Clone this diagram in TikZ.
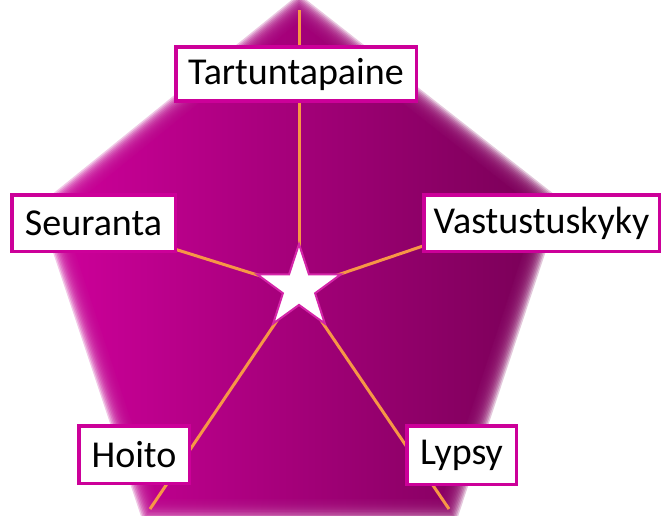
\documentclass[tikz,border=0pt]{standalone}
\usepackage{fontspec}
\setmainfont{Carlito}
\usetikzlibrary{shapes.geometric}
\definecolor{penta}{RGB}{204,0,153}
\definecolor{pentamid}{RGB}{182,0,138}
\definecolor{pentadark}{RGB}{122,0,88}
\definecolor{spokeorange}{RGB}{247,150,70}
\tikzset{
  labelbox/.style={draw=penta, line width=3.5pt, fill=white, inner sep=0pt,
    minimum height=54pt, font=\fontsize{38}{40}\selectfont},
  spoke/.style={draw=spokeorange, line width=3pt},
}

\begin{document}
\begin{tikzpicture}[x=1pt,y=-1pt]
        \clip (0,0) rectangle (661,515);
        \fill[white] (0,0) rectangle (661,515);
        \coordinate (centre) at (299,288);
        % soft pentagon
            \foreach \k in {0,...,14}{
                \pgfmathsetmacro{\s}{1.05-0.007*\k}
                \shade[left color=penta, middle color=pentamid, right color=pentadark,
                       opacity=0.22, scale around={\s:(centre)}]
                    (299,8) -- (550,205) -- (449,510) -- (150,510) -- (50,210) -- cycle;
            }
            \shade[left color=penta, middle color=pentamid, right color=pentadark,
                   scale around={0.95:(centre)}]
                (299,8) -- (550,205) -- (449,510) -- (150,510) -- (50,210) -- cycle;
        % corners
            \coordinate (vtop) at (299,10);
            \coordinate (vright) at (550,203);
            \coordinate (vlowright) at (449,509);
            \coordinate (vlowleft) at (150,509);
            \coordinate (vleft) at (50,210);
        % spokes
            \foreach \v in {vtop,vright,vlowright,vlowleft,vleft}
                \draw[spoke] (centre) -- (\v);
        % star
            \node[star, star points=5, star point ratio=2.6, minimum size=88pt,
                  inner sep=0pt, fill=white, draw=penta!85!white, line width=2pt]
                (star) at (centre) {};
        %nodes
            \node[labelbox, minimum width=240.5pt] (tartunta) at (296,74) {Tartuntapaine};
            \node[labelbox, minimum width=163.5pt, minimum height=56.5pt] (seuranta) at (93.5,223) {Seuranta};
            \node[labelbox, minimum width=235.5pt, minimum height=56.5pt] (vastustus) at (541.5,223) {Vastustuskyky};
            \node[labelbox, minimum width=110.5pt, minimum height=57.5pt] (hoito) at (134,454.5) {Hoito};
            \node[labelbox, minimum width=109.5pt, minimum height=58.5pt] (lypsy) at (461.5,455) {Lypsy};
\end{tikzpicture}
\end{document}
